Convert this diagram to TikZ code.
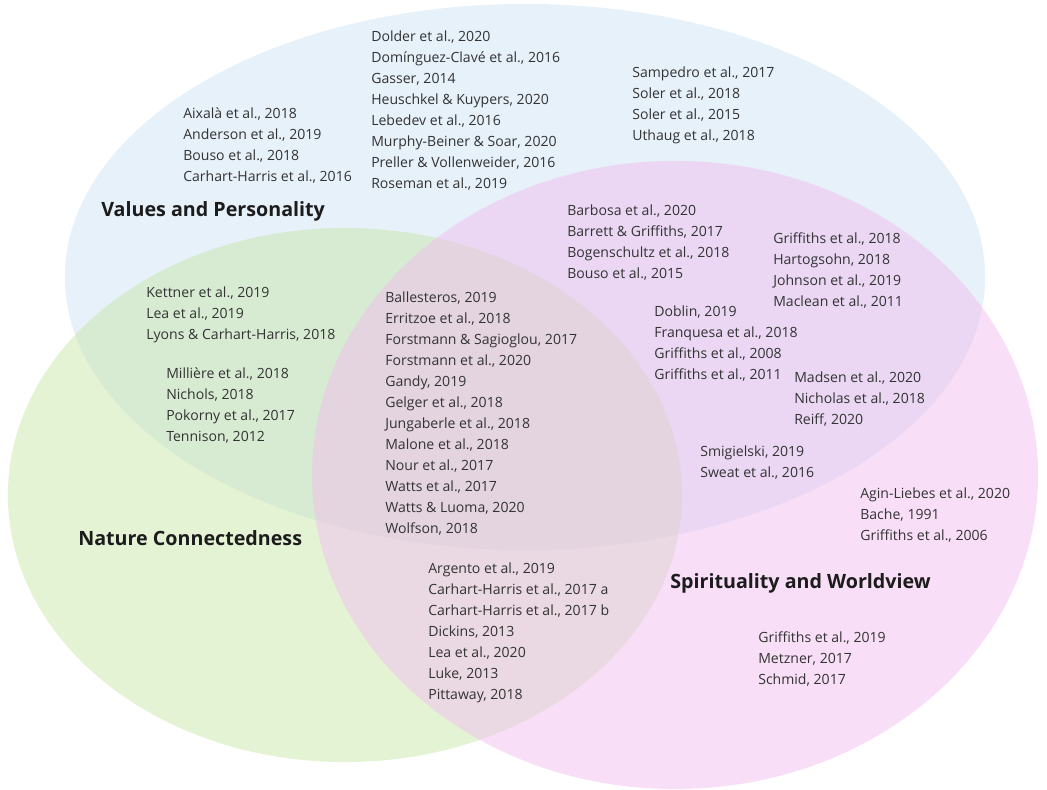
\documentclass[tikz,border=0pt]{standalone}
\usepackage{fontspec}
\setmainfont{Open Sans}
\usetikzlibrary{shapes.geometric, positioning}

\definecolor{vpblue}{RGB}{205,227,245}
\definecolor{ncgreen}{RGB}{201,231,170}
\definecolor{swpink}{RGB}{241,190,240}
\definecolor{reftext}{RGB}{51,51,51}
\definecolor{headtext}{RGB}{28,28,28}

\begin{document}
\begin{tikzpicture}[x=0.025cm, y=-0.025cm]
    \tikzstyle{set} = [ellipse, inner sep=0pt, fill opacity=0.5, draw=none]
    % base anchor of a list sits on its last line
    \tikzstyle{refs} = [align=left, anchor=base west, inner sep=0pt, text=reftext, font=\fontsize{10}{14.9}\selectfont]
    \tikzstyle{heading} = [anchor=base west, inner sep=0pt, text=headtext, font=\fontsize{14}{16}\selectfont\bfseries]

    \useasboundingbox (0,0) rectangle (1047,790);

    % the three sets
    \node (values) [set, fill=vpblue, minimum width=23cm, minimum height=13.65cm] at (525,277) {};
    \node (nature) [set, fill=ncgreen, minimum width=16.85cm, minimum height=13.35cm] at (345,495) {};
    \node (spirit) [set, fill=swpink, minimum width=18.15cm, minimum height=15.7cm] at (675,475) {};

    \node (vptitle) [heading] at (101,216) {Values and Personality};
    \node (nctitle) [heading] at (78,545) {Nature Connectedness};
    \node (swtitle) [heading] at (670,588) {Spirituality and Worldview};

    % values and personality only
    \node (vpa) [refs] at (183,181) {Aixalà et al., 2018\\Anderson et al., 2019\\Bouso et al., 2018\\Carhart-Harris et al., 2016};
    \node (vpb) [refs] at (371,188) {Dolder et al., 2020\\Domínguez-Clavé et al., 2016\\Gasser, 2014\\Heuschkel \& Kuypers, 2020\\Lebedev et al., 2016\\Murphy-Beiner \& Soar, 2020\\Preller \& Vollenweider, 2016\\Roseman et al., 2019};
    \node (vpc) [refs] at (632,140) {Sampedro et al., 2017\\Soler et al., 2018\\Soler et al., 2015\\Uthaug et al., 2018};

    % values and spirituality
    \node (vsa) [refs] at (567,278) {Barbosa et al., 2020\\Barrett \& Griffiths, 2017\\Bogenschultz et al., 2018\\Bouso et al., 2015};
    \node (vsb) [refs] at (773,306) {Griffiths et al., 2018\\Hartogsohn, 2018\\Johnson et al., 2019\\Maclean et al., 2011};
    \node (vsc) [refs] at (654,379) {Doblin, 2019\\Franquesa et al., 2018\\Griffiths et al., 2008\\Griffiths et al., 2011};
    \node (vsd) [refs] at (794,424) {Madsen et al., 2020\\Nicholas et al., 2018\\Reiff, 2020};
    \node (vse) [refs] at (700,477) {Smigielski, 2019\\Sweat et al., 2016};

    % values and nature
    \node (vna) [refs] at (146,339) {Kettner et al., 2019\\Lea et al., 2019\\Lyons \& Carhart-Harris, 2018};
    \node (vnb) [refs] at (166,441) {Millière et al., 2018\\Nichols, 2018\\Pokorny et al., 2017\\Tennison, 2012};

    % all three
    \node (core) [refs] at (385,533) {Ballesteros, 2019\\Erritzoe et al., 2018\\Forstmann \& Sagioglou, 2017\\Forstmann et al., 2020\\Gandy, 2019\\Gelger et al., 2018\\Jungaberle et al., 2018\\Malone et al., 2018\\Nour et al., 2017\\Watts et al., 2017\\Watts \& Luoma, 2020\\Wolfson, 2018};

    % nature and spirituality
    \node (nsa) [refs] at (428,699) {Argento et al., 2019\\Carhart-Harris et al., 2017 a\\Carhart-Harris et al., 2017 b\\Dickins, 2013\\Lea et al., 2020\\Luke, 2013\\Pittaway, 2018};

    % spirituality only
    \node (swa) [refs] at (860,540) {Agin-Liebes et al., 2020\\Bache, 1991\\Griffiths et al., 2006};
    \node (swb) [refs] at (758,684) {Griffiths et al., 2019\\Metzner, 2017\\Schmid, 2017};
\end{tikzpicture}
\end{document}
